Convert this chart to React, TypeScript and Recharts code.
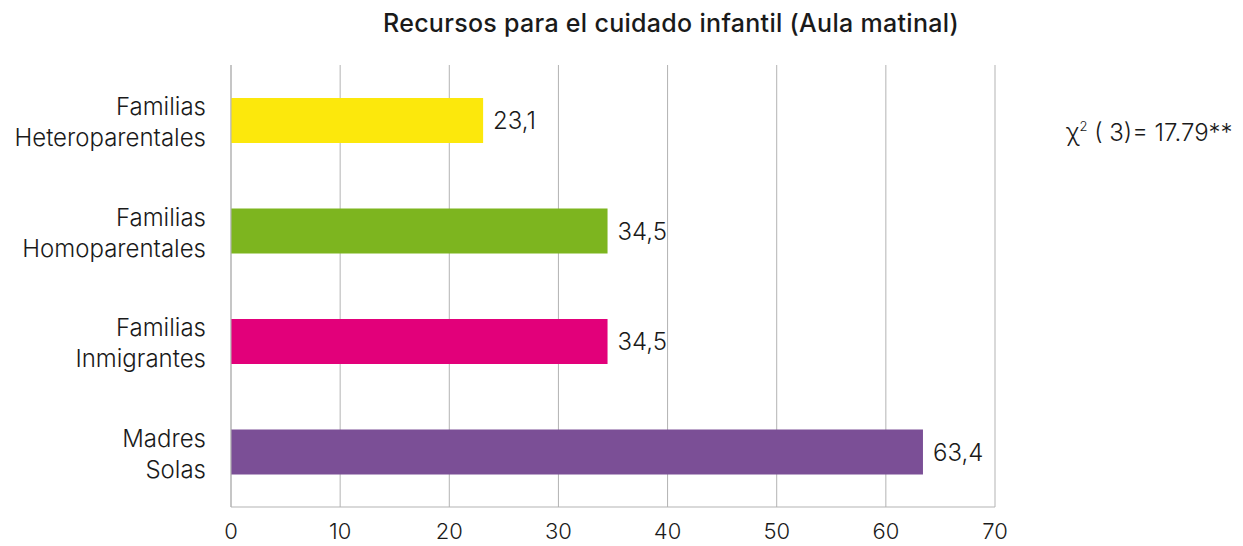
import { Bar, BarChart, CartesianGrid, LabelList, XAxis, YAxis } from 'recharts';

// Porcentaje que usa aula matinal, por tipo de familia
const CATEGORIES = [
  ['Familias', 'Heteroparentales'],
  ['Familias', 'Homoparentales'],
  ['Familias', 'Inmigrantes'],
  ['Madres', 'Solas'],
];
const VALUES = [23.1, 34.5, 34.5, 63.4];
const COLORS = ['#fce80c', '#7db51f', '#e2007a', '#7b4f96'];
const X_TICKS = [0, 10, 20, 30, 40, 50, 60, 70];

const TITLE = 'Recursos para el cuidado infantil (Aula matinal)';
const FONT = 'Inter, "Liberation Sans", Arial, sans-serif';
const TEXT = '#1a1a1a';
const GRID = '#b3b3b3';

const data = CATEGORIES.map((lines, i) => ({
  key: lines.join(' '),
  lines,
  value: VALUES[i],
  fill: COLORS[i],
}));

function CategoryTick(props: any) {
  const { x, y, payload } = props;
  const row = data.find((d) => d.key === payload.value);
  const lines = row ? row.lines : [payload.value];
  return (
    <text x={x - 17} y={y} textAnchor="end" fill={TEXT} fontSize={24} fontWeight={300} fontFamily={FONT}>
      {lines.map((l, i) => (
        <tspan key={i} x={x - 17} dy={i === 0 ? -5 : 31}>
          {l}
        </tspan>
      ))}
    </text>
  );
}

export default function App() {
  return (
    <div style={{ position: 'absolute', left: 0, top: 0, width: 1243, height: 546, background: '#fff' }}>
      <BarChart
        width={1243}
        height={546}
        data={data}
        layout="vertical"
        margin={{ top: 65, right: 248, bottom: 9, left: 11 }}
        barSize={45}
      >
        <text
          x={671}
          y={32}
          textAnchor="middle"
          fill={TEXT}
          fontSize={25}
          fontWeight={500}
          letterSpacing={0.3}
          fontFamily={FONT}
        >
          {TITLE}
        </text>
        <text x={1066} y={141} fill={TEXT} fontSize={24} fontWeight={300} fontFamily={FONT}>
          χ
          <tspan fontSize={13} dy={-10}>2</tspan>
          <tspan dy={10}> ( 3)= 17.79**</tspan>
        </text>
        <CartesianGrid stroke={GRID} horizontal={false} vertical={true} />
        <XAxis
          type="number"
          domain={[0, 70]}
          ticks={X_TICKS}
          height={30}
          axisLine={{ stroke: GRID }}
          tickLine={false}
          tick={{ fill: TEXT, fontSize: 22, fontWeight: 300, fontFamily: FONT }}
          tickMargin={10}
          interval={0}
        />
        <YAxis
          type="category"
          dataKey="key"
          width={220}
          axisLine={{ stroke: GRID }}
          tickLine={false}
          tick={<CategoryTick />}
          interval={0}
        />
        <Bar dataKey="value" isAnimationActive={false}>
          <LabelList
            dataKey="value"
            position="right"
            offset={10}
            fill={TEXT}
            fontSize={24}
            fontWeight={300}
            fontFamily={FONT}
            formatter={(v: any) => String(v).replace('.', ',')}
          />
        </Bar>
      </BarChart>
    </div>
  );
}
